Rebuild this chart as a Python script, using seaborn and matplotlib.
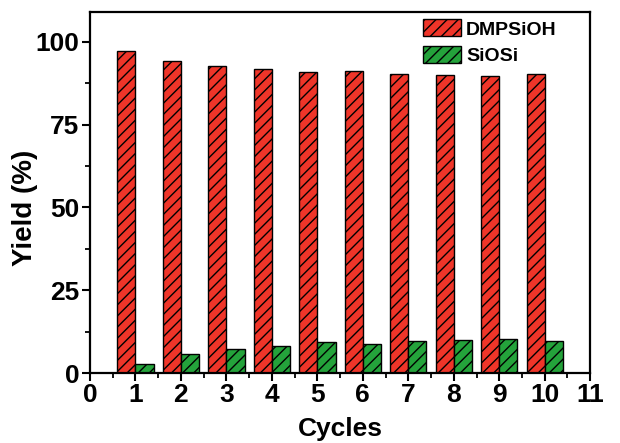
"""
Yield of DMPSiOH and SiOSi over repeated catalyst cycles
"""

import matplotlib
matplotlib.use('Agg')
import matplotlib.pyplot as plt
from matplotlib.ticker import MultipleLocator
import pandas as pd
import seaborn as sns

cycles = [1, 2, 3, 4, 5, 6, 7, 8, 9, 10]
dmpsioh = [97.1, 94.3, 92.6, 91.8, 90.8, 91.2, 90.4, 90.0, 89.7, 90.2]
siosi = [2.8, 5.6, 7.3, 8.2, 9.3, 8.9, 9.6, 9.9, 10.3, 9.7]
series = ['DMPSiOH', 'SiOSi']
colors = ['#EF3529', '#24A33B']
x_ticks = list(range(0, 12))
y_ticks = [0, 25, 50, 75, 100]

df = pd.DataFrame({
    'Cycles': cycles * 2,
    'Yield': dmpsioh + siosi,
    'Product': [series[0]] * len(cycles) + [series[1]] * len(cycles),
})

sns.set_style('ticks')
plt.rcParams['font.family'] = ['Liberation Sans', 'DejaVu Sans']
plt.rcParams['font.weight'] = 'bold'
plt.rcParams['hatch.linewidth'] = 1.0
plt.rcParams['hatch.color'] = 'black'
plt.rcParams['axes.linewidth'] = 1.6
plt.rcParams['text.color'] = 'black'
plt.rcParams['axes.labelcolor'] = 'black'
plt.rcParams['xtick.color'] = 'black'
plt.rcParams['ytick.color'] = 'black'
plt.rcParams['axes.edgecolor'] = 'black'

fig = plt.figure(figsize=(6.2, 4.43), dpi=100)
ax = fig.add_axes([0.145, 0.158, 0.807, 0.815])

sns.barplot(data=df, x='Cycles', y='Yield', hue='Product', hue_order=series,
            palette=colors, native_scale=True, width=0.8, saturation=1,
            edgecolor='black', linewidth=1.0, legend=False, ax=ax)

for cont in ax.containers:
    for bar in cont.patches:
        bar.set_hatch('///')

ax.set_xlim(0, 11)
ax.set_ylim(0, 109)
ax.set_xticks(x_ticks)
ax.set_yticks(y_ticks)
ax.xaxis.set_minor_locator(MultipleLocator(0.5))
ax.yaxis.set_minor_locator(MultipleLocator(12.5))
ax.tick_params(which='major', direction='out', length=6, width=1.5,
               labelsize=19, top=False, right=False, colors='black')
ax.tick_params(which='minor', direction='out', length=3.5, width=1.3,
               top=False, right=False, colors='black')
ax.tick_params(axis='x', which='major', pad=1.5)
ax.tick_params(axis='y', which='major', pad=1.5)
for lab in ax.get_xticklabels() + ax.get_yticklabels():
    lab.set_fontweight('bold')

ax.set_xlabel('Cycles', fontsize=19, fontweight='bold', labelpad=7)
ax.set_ylabel('Yield (%)', fontsize=20, fontweight='bold')
ax.yaxis.set_label_coords(-0.104, 0.456)

handles = [c.patches[0] for c in ax.containers]
ax.legend(handles, series, loc='upper right', frameon=False,
          prop={'weight': 'bold', 'size': 14}, handlelength=1.95, handleheight=0.95,
          handletextpad=0.25, labelspacing=0.4, borderpad=0, borderaxespad=0,
          bbox_to_anchor=(0.898, 0.956), bbox_transform=fig.transFigure)

fig.savefig('out.png', dpi=100)
